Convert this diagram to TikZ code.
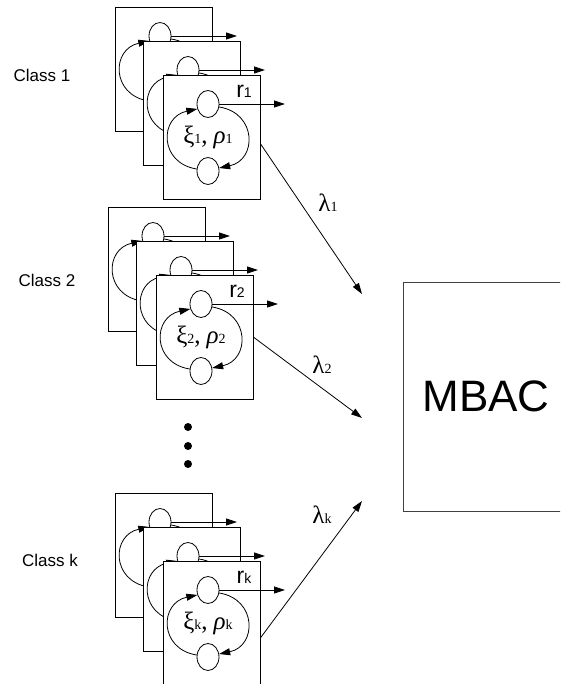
\documentclass[tikz,border=0pt]{standalone}
\usepackage{fontspec}
\setmainfont{Liberation Serif}
\setsansfont{Liberation Sans}
\usetikzlibrary{shapes.geometric,arrows.meta,calc}
\tikzstyle{card} = [rectangle, minimum width=97pt, minimum height=124pt, anchor=north west, draw=black, fill=white]
\tikzstyle{state} = [ellipse, minimum width=22pt, minimum height=27pt, inner sep=0pt, draw=black, fill=white]
\tikzstyle{dot} = [circle, minimum size=8pt, inner sep=0pt, fill=black]
\tikzstyle{class} = [font=\sffamily\fontsize{17}{17}\selectfont]
\tikzstyle{rate} = [font=\sffamily\fontsize{23}{23}\selectfont]
\tikzstyle{param} = [font=\fontsize{25}{25}\selectfont]
\tikzstyle{arrow} = [->,>={Triangle[length=11pt,width=7pt]}]
\newcommand{\lowsub}[1]{{\fontsize{14}{14}\selectfont #1}}
\begin{document}
\begin{tikzpicture}[x=1pt, y=-1pt, line width=0.8pt]
  \useasboundingbox (0,0) rectangle (560,684);
  \clip (0,0) rectangle (560,684);
  \foreach \g/\gx/\gy in {1/115/7, 2/108/207, 3/115/493}{
    \foreach \c/\cx/\cy in {1/0/0, 2/28/34, 3/48/68}{
      \begin{scope}[shift={(\gx+\cx,\gy+\cy)}]
        \node (c\g\c)[card] at (0,0) {};
        \node (t\g\c)[state] at (45,29) {};
        \node (b\g\c)[state] at (45,96) {};
        \coordinate (o\g\c) at (122,29);
        \draw [arrow](t\g\c)--(o\g\c);
        \draw [arrow](b\g\c.170) .. controls +(-38,-6) and +(-38,8) .. (t\g\c.205);
        \draw [arrow](t\g\c.345) .. controls +(38,6) and +(38,-8) .. (b\g\c.15);
      \end{scope}
    }
  }
  \foreach \g/\s in {1/1, 2/2, 3/k}{
    \node (r\g)[rate] at ($(c\g3.north west)+(81,16)$) {r\lowsub{\s}};
    \node (p\g)[param] at ($(c\g3.north west)+(45,62)$) {ξ\lowsub{\s},\hspace{6pt}\textit{ρ}\lowsub{\s}};
  }
  \node (cl1)[class] at (42,75) {Class 1};
  \node (cl2)[class] at (47,280) {Class 2};
  \node (clk)[class] at (50,560) {Class k};
  \node (d1)[dot] at (188,427) {};
  \node (d2)[dot] at (188,446) {};
  \node (d3)[dot] at (188,464) {};
  \node (mbac)[rectangle, draw=black!75, minimum width=166pt, minimum height=229pt, font=\sffamily\fontsize{44}{44}\selectfont] at (486,396.5) {MBAC};
  \coordinate (e1) at (362,294);
  \coordinate (e2) at (362,418);
  \coordinate (ek) at (362,501);
  \draw [arrow](c13.-8)--(e1);
  \draw [arrow](c23.east)--(e2);
  \draw [arrow](c33.-16)--(ek);
  \node (l1)[param] at (328,203) {λ\lowsub{1}};
  \node (l2)[param] at (322,365) {λ\lowsub{2}};
  \node (lk)[param] at (322,515) {λ\lowsub{k}};
\end{tikzpicture}
\end{document}
